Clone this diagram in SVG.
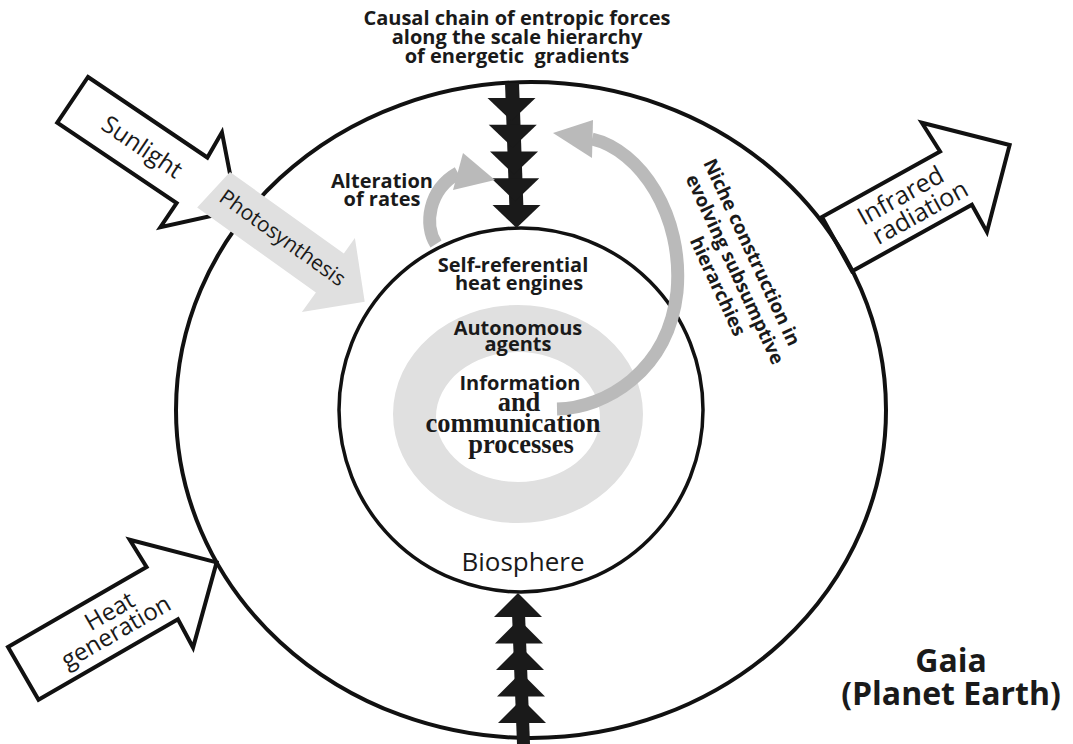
<svg xmlns="http://www.w3.org/2000/svg" width="1073" height="744" viewBox="0 0 1073 744">
<style>
.out{fill:#fff;stroke:#111;stroke-width:4;stroke-linejoin:miter}
.ring{fill:none;stroke:#111}
.chain{fill:#1a1a1a}
.garc{fill:none;stroke:#bababa;stroke-width:13}
.ghead{fill:#bababa}
.t{font-family:"Open Sans","Noto Sans",sans-serif;fill:#1a1a1a}
.b{font-weight:700}
.s{font-family:"Liberation Serif","DejaVu Serif",serif;font-weight:700;fill:#1a1a1a}
.m{text-anchor:middle}
</style>
<rect width="1073" height="744" fill="#fff"/>

<g id="sunlight">
<path class="out" transform="translate(88,77) rotate(34)" d="M0,0 H144 L142,-29 L198,27 L144,84 L144,55 H0 Z"/>
<text class="t m" font-size="24" transform="translate(88,77) rotate(34)" x="84" y="36">Sunlight</text>
</g>

<g id="heat-generation">
<path class="out" transform="translate(8,647) rotate(-30)" d="M0,0 H160 L159,-32 L223,31 L160,93 L161,61 H0 Z"/>
<g transform="translate(8,647) rotate(-30)">
<text class="t m" font-size="24" x="106" y="28">Heat</text>
<text class="t m" font-size="24" x="101" y="49">generation</text>
</g>
</g>

<g id="infrared">
<path class="out" transform="translate(822,217) rotate(-29)" d="M0,0 H135 L133,-34 L199,28 L137,93 L137,62 H0 Z"/>
<g transform="translate(822,217) rotate(-29)">
<text class="t m" font-size="25" x="79" y="28">Infrared</text>
<text class="t m" font-size="25" x="88" y="52">radiation</text>
</g>
</g>

<g id="gaia">
<ellipse class="ring" cx="531" cy="410" rx="355" ry="328" stroke-width="4"/>
<text class="t b m" font-size="32" x="951" y="672">Gaia</text>
<text class="t b m" font-size="32" x="951" y="705">(Planet Earth)</text>
</g>

<g id="biosphere">
<circle class="ring" cx="521" cy="410" r="182" stroke-width="3.5"/>
<text class="t m" font-size="26" x="523" y="571">Biosphere</text>
<text class="t b m" font-size="20" x="513" y="272">Self-referential</text>
<text class="t b m" font-size="20" x="519" y="290">heat engines</text>
</g>

<g id="autonomous-agents">
<path fill="#e0e0e0" fill-rule="evenodd" d="M393,414 A125,109 0 1,0 643,414 A125,109 0 1,0 393,414 Z M436,417 A82,65 0 1,0 600,417 A82,65 0 1,0 436,417 Z"/>
<text class="t b m" font-size="20" x="518" y="335">Autonomous</text>
<text class="t b m" font-size="20" x="518" y="351">agents</text>
</g>

<g id="information">
<text class="t b m" font-size="20" x="520" y="390">Information</text>
<text class="s m" font-size="26.5" x="519" y="411">and</text>
<text class="s m" font-size="26.5" x="513" y="432">communication</text>
<text class="s m" font-size="26.5" x="521" y="453">processes</text>
</g>

<g id="connectors">
<g id="causal-chain-top">
<polygon class="chain" points="505,83 519,83 523.5,210 509.5,210"/>
<polygon class="chain" points="487.5,98 535.5,98 511.5,121"/>
<polygon class="chain" points="488.75,124.75 536.75,124.75 512.75,147.75"/>
<polygon class="chain" points="490,151.5 538,151.5 514,174.5"/>
<polygon class="chain" points="491.25,178.25 539.25,178.25 515.25,201.25"/>
<polygon class="chain" points="492.5,205 540.5,205 516.5,228"/>
</g>
<g id="causal-chain-bottom">
<polygon class="chain" points="511.5,600 524.5,600 530,744 517,744"/>
<polygon class="chain" points="518,593 542,617 494,617"/>
<polygon class="chain" points="519,619.5 543,643.5 495,643.5"/>
<polygon class="chain" points="520,646 544,670 496,670"/>
<polygon class="chain" points="521,672.5 545,696.5 497,696.5"/>
<polygon class="chain" points="522,699 546,723 498,723"/>
</g>
<g id="photosynthesis" transform="translate(230,172) rotate(35.6)">
<path fill="#e0e0e0" d="M0,0 H140 V-19 L185,27 L140,72 V48 H-6 Z"/>
<text class="t m" font-size="21" x="81" y="30" fill="#222">Photosynthesis</text>
</g>
<g id="alteration-of-rates">
<path class="garc" d="M436,244 C424,225 428,190 458,173"/>
<polygon class="ghead" points="495,180 463,153 453,190"/>
<text class="t b m" font-size="20" x="382" y="188">Alteration</text>
<text class="t b m" font-size="20" x="382" y="206">of rates</text>
</g>
<g id="niche-construction">
<path class="garc" d="M557,409 C605,408 668,372 677,292 C684,215 640,150 592,139"/>
<polygon class="ghead" points="553,133 593,120 592,158"/>
<text class="t b m" font-size="19" transform="translate(746,255) rotate(65)">Niche construction in</text>
<text class="t b m" font-size="19" transform="translate(729,272) rotate(65)">evolving subsumptive</text>
<text class="t b m" font-size="19" transform="translate(712,289) rotate(65)">hierarchies</text>
</g>
</g>

<g id="title">
<text class="t b m" font-size="20" x="517" y="25">Causal chain of entropic forces</text>
<text class="t b m" font-size="20" x="517" y="44">along the scale hierarchy</text>
<text class="t b m" font-size="20" x="517" y="63" xml:space="preserve">of energetic  gradients</text>
</g>
</svg>
